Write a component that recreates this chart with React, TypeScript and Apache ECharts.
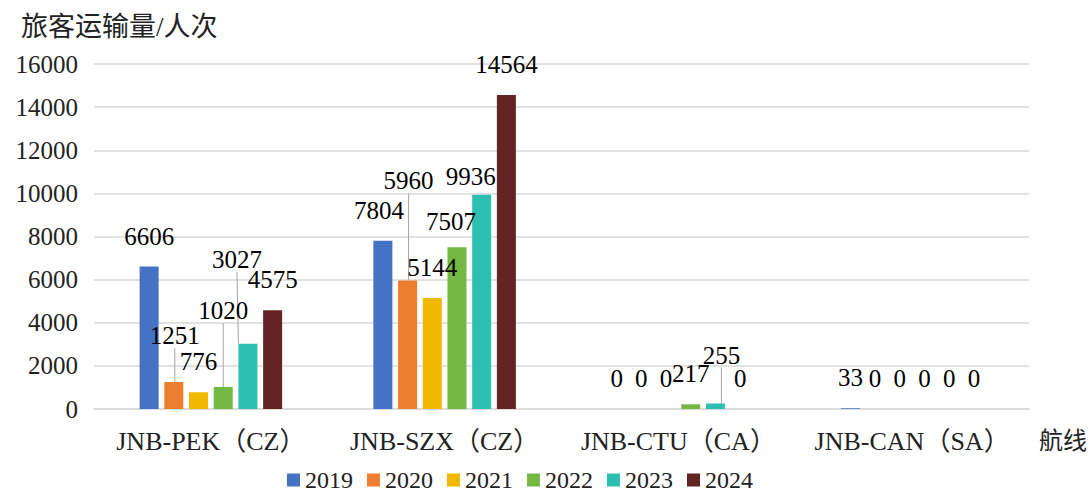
import React, { useEffect, useRef } from "react";
import * as echarts from "echarts";

const categories = ["JNB-PEK（CZ）", "JNB-SZX（CZ）", "JNB-CTU（CA）", "JNB-CAN（SA）"];
const years = ["2019", "2020", "2021", "2022", "2023", "2024"];
const v2019 = [6606, 7804, 0, 33];
const v2020 = [1251, 5960, 0, 0];
const v2021 = [776, 5144, 0, 0];
const v2022 = [1020, 7507, 217, 0];
const v2023 = [3027, 9936, 255, 0];
const v2024 = [4575, 14564, 0, 0];
const seriesValues = [v2019, v2020, v2021, v2022, v2023, v2024];
const colors = ["#4472C4", "#ED7D31", "#F2B800", "#74B743", "#2EBFB2", "#622524"];

// label moves with leader lines: key "series-dataIndex" -> [dx, dy]
const leaderMoves: Record<string, [number, number]> = {
  "1-0": [1, -16],
  "3-0": [0, -46],
  "4-0": [-11, -54],
  "1-1": [1, -69],
  "4-2": [6, -18],
};
// small label nudges without leader lines
const nudges: Record<string, [number, number]> = {
  "0-1": [-4, 0],
  "3-1": [-6, 5],
  "4-1": [-11, 12],
};

const FONT = "'Liberation Serif', 'Times New Roman', 'Noto Sans CJK SC', serif";

export default function App() {
  const ref = useRef<HTMLDivElement>(null);
  useEffect(() => {
    if (!ref.current) return;
    document.body.style.margin = "0";
    const chart = echarts.init(ref.current, undefined, { renderer: "svg" });
    const series = seriesValues.map((vals, si) => ({
      name: years[si],
      type: "bar",
      barWidth: 19,
      barGap: "30%",
      itemStyle: { color: colors[si] },
      label: {
        show: true,
        position: "top",
        distance: 18,
        color: "#000",
        fontSize: 25,
        fontFamily: FONT,
      },
      labelLine: { show: false, lineStyle: { color: "#a6a6a6", width: 1 } },
      labelLayout: (p: any) => {
        const key = `${p.seriesIndex}-${p.dataIndex}`;
        const m = leaderMoves[key] || nudges[key];
        if (m) return { dx: m[0], dy: m[1] };
        return {};
      },
      data: vals.map((v, di) => {
        const key = `${si}-${di}`;
        if (leaderMoves[key]) return { value: v, labelLine: { show: true, lineStyle: { color: "#a6a6a6", width: 1 } } };
        return { value: v };
      }),
    }));
    chart.setOption({
      animation: false,
      textStyle: { fontFamily: FONT },
      title: {
        text: "旅客运输量/人次",
        left: 16,
        top: 8,
        textStyle: { fontSize: 27, fontWeight: "normal", color: "#222", fontFamily: FONT },
      },
      grid: { left: 94, right: 60, top: 64, bottom: 83, containLabel: false },
      legend: {
        left: 282,
        top: 463,
        itemWidth: 13,
        itemHeight: 13,
        itemGap: 14,
        icon: "rect",
        textStyle: { fontSize: 24, color: "#222", fontFamily: FONT },
        data: years,
      },
      xAxis: {
        type: "category",
        data: categories,
        name: "航线",
        nameLocation: "end",
        nameGap: 10,
        nameTextStyle: { fontSize: 24, color: "#222", fontFamily: FONT, verticalAlign: "top", lineHeight: 64 },
        axisLine: { show: true, lineStyle: { color: "#d9d9d9", width: 1.5 } },
        axisTick: { show: false },
        axisLabel: { fontSize: 26, color: "#222", margin: 19, fontFamily: FONT, interval: 0 },
      },
      yAxis: {
        type: "value",
        min: 0,
        max: 16000,
        interval: 2000,
        axisLine: { show: false },
        axisTick: { show: false },
        splitLine: { lineStyle: { color: "#d9d9d9", width: 1.5 } },
        axisLabel: { fontSize: 25, color: "#222", margin: 16, fontFamily: FONT, formatter: (v: number) => String(v) },
      },
      series,
    });
    return () => chart.dispose();
  }, []);
  return <div ref={ref} style={{ width: 1090, height: 492 }} />;
}
